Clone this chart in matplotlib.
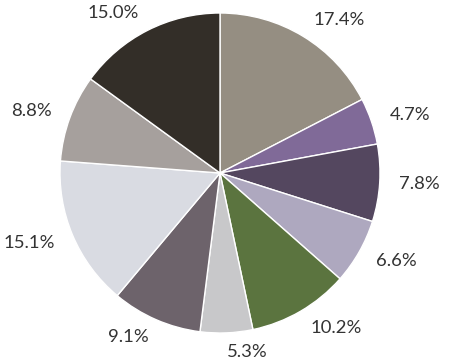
import matplotlib
matplotlib.use("Agg")
from matplotlib import pyplot as plt

# slice shares, clockwise from 12 o'clock
values = [17.4, 4.7, 7.8, 6.6, 10.2, 5.3, 9.1, 15.1, 8.8, 15.0]
labels = ["17.4%", "4.7%", "7.8%", "6.6%", "10.2%", "5.3%", "9.1%", "15.1%", "8.8%", "15.0%"]
colors = ["#958e82", "#806a98", "#54475f", "#aea8bf", "#5b743f",
          "#c8c8ca", "#6d636b", "#d9dbe2", "#a6a09d", "#332e28"]

plt.rcParams['font.family'] = ['Lato', 'DejaVu Sans']

fig = plt.figure(figsize=(4.5, 3.6), dpi=100)
ax = fig.add_axes([0, 0, 1, 1])

wedges, texts = ax.pie(values, labels=labels, colors=colors,
                       startangle=90, counterclock=False,
                       labeldistance=1.12,
                       wedgeprops=dict(edgecolor="white", linewidth=1),
                       textprops=dict(fontsize=13.3, color="#333333"))

# pie centre at (220, 173) px, radius 160 px
ax.set_xlim(-220 / 160, 230 / 160)
ax.set_ylim(-187 / 160, 173 / 160)
ax.set_aspect("equal")
ax.axis("off")

fig.savefig("out.png", dpi=100)
